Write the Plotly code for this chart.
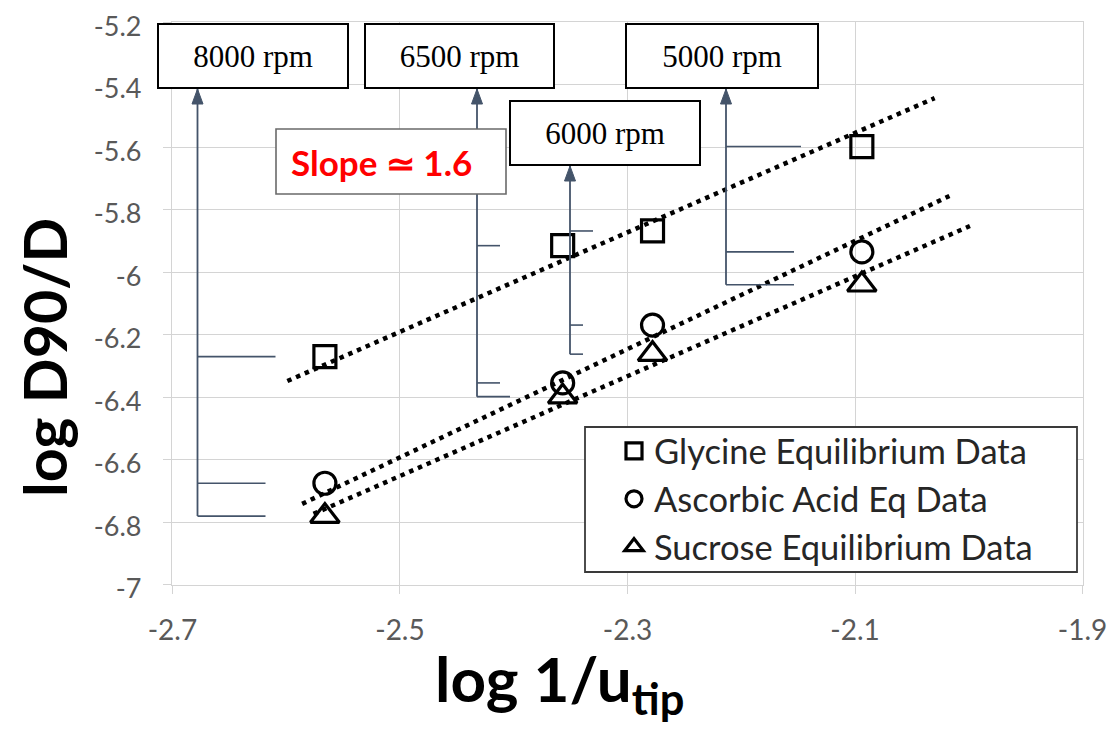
import plotly.graph_objects as go

# ---------------- data ----------------
log_inv_utip = [-2.566, -2.357, -2.278, -2.094]
glycine = [-6.270, -5.915, -5.868, -5.598]
ascorbic = [-6.675, -6.354, -6.169, -5.935]
sucrose = [-6.780, -6.398, -6.262, -6.040]

series_names = ["Glycine Equilibrium Data", "Ascorbic Acid Eq Data", "Sucrose Equilibrium Data"]
series_symbols = ["square-open", "circle-open", "triangle-up-open"]

# dotted trend lines (end points)
trend_x0 = [-2.599, -2.586, -2.576]
trend_y0 = [-6.348, -6.741, -6.773]
trend_x1 = [-2.030, -2.017, -1.999]
trend_y1 = [-5.443, -5.756, -5.852]

rpm_labels = ["8000 rpm", "6500 rpm", "6000 rpm", "5000 rpm"]
slope_text = "Slope \u2243 1.6"
x_title = "<b>log 1/u<sub>tip</sub></b>"
y_title = "<b>log D90/D</b>"

x_ticks = [-2.7, -2.5, -2.3, -2.1, -1.9]
x_tick_text = ["-2.7", "-2.5", "-2.3", "-2.1", "-1.9"]
y_ticks = [-7, -6.8, -6.6, -6.4, -6.2, -6, -5.8, -5.6, -5.4, -5.2]
y_tick_text = ["-7", "-6.8", "-6.6", "-6.4", "-6.2", "-6", "-5.8", "-5.6", "-5.4", "-5.2"]

# ---------------- layout helpers (positions, not data) ----------------
OFF = 8                      # page body margin of the browser
W, H = 1115 - OFF, 736 - OFF
ML, MT = 172 - OFF, 22 - OFF
PW, PH = 911, 563
MR, MB = W - ML - PW, H - MT - PH
EPS = 0.0004
X0, X1 = -2.7 - EPS, -1.9 + EPS
Y0, Y1 = -7.0 - EPS, -5.2 + EPS


# all helpers take viewport pixel coordinates
def dx(px):
    return X0 + (px - OFF - ML) / PW * (X1 - X0)


def dy(py):
    return Y1 - (py - OFF - MT) / PH * (Y1 - Y0)


def px_(x):
    return (x - OFF - ML) / PW


def py_(y):
    return 1 - (y - OFF - MT) / PH


fig = go.Figure()

all_series = [glycine, ascorbic, sucrose]
for i in range(3):
    fig.add_trace(go.Scatter(
        x=[trend_x0[i], trend_x1[i]], y=[trend_y0[i], trend_y1[i]],
        mode="lines", line=dict(color="black", width=4.5, dash="4.5px,5px"),
        showlegend=False, hoverinfo="skip"))

for i in range(3):
    size = 22 if i < 2 else 25
    fig.add_trace(go.Scatter(
        x=log_inv_utip, y=all_series[i], mode="markers", name=series_names[i],
        marker=dict(symbol=series_symbols[i], size=size, color="black",
                    line=dict(color="black", width=3.2))))

shapes = []
annotations = []

# rpm callouts: box center (px), box size, arrow x (px), tick lengths (px)
box_cx = [253, 459, 605, 722]
box_cy = [56, 56, 133, 56]
box_w = [188, 187, 188, 190]
box_h = [62, 62, 62, 62]
arrow_px = [197.5, 477, 570, 726]
tick_len = [[78, 68, 68], [23, 23, 33], [23, 13, 13], [75, 68, 68]]
ARROW = "#44546A"

for k in range(4):
    ax_d = dx(arrow_px[k])
    top_d = dy(box_cy[k] + box_h[k] / 2 + 2)
    ys = [glycine[k], ascorbic[k], sucrose[k]]
    shapes.append(dict(type="line", xref="x", yref="y", x0=ax_d, x1=ax_d,
                       y0=min(ys), y1=top_d, line=dict(color=ARROW, width=1.8), layer="above"))
    shapes.append(dict(type="path", xref="x", yref="y", xsizemode="pixel", ysizemode="pixel",
                       xanchor=ax_d, yanchor=top_d, path="M -5.5 -15 L 5.5 -15 L 0 0 Z",
                       fillcolor=ARROW, line=dict(color=ARROW, width=1), layer="above"))
    for j, yv in enumerate(ys):
        shapes.append(dict(type="line", xref="x", yref="y", xsizemode="pixel", xanchor=ax_d,
                           x0=0, x1=tick_len[k][j], y0=yv, y1=yv,
                           line=dict(color=ARROW, width=1.6), layer="above"))
    annotations.append(dict(
        x=dx(box_cx[k]), y=dy(box_cy[k]), xref="x", yref="y", text=rpm_labels[k],
        showarrow=False, font=dict(family="Liberation Serif", size=31, color="black"),
        bgcolor="white", bordercolor="black", borderwidth=2, borderpad=0,
        width=box_w[k], height=box_h[k], xanchor="center", yanchor="middle"))

# slope box (frame + text)
shapes.append(dict(type="rect", xref="x", yref="y", x0=dx(276), x1=dx(506),
                   y0=dy(194), y1=dy(129), line=dict(color="#6a6a6a", width=1.6),
                   fillcolor="white", layer="above"))
annotations.append(dict(
    x=dx(381), y=dy(162), xref="x", yref="y", text="<b>" + slope_text + "</b>",
    showarrow=False, font=dict(family="Lato", size=35, color="#FF0000"),
    xanchor="center", yanchor="middle"))

# axis titles
annotations.append(dict(x=px_(559), y=py_(682), xref="paper", yref="paper", text=x_title,
                        showarrow=False, font=dict(family="Lato", size=62, color="black"),
                        xanchor="center", yanchor="middle"))
annotations.append(dict(x=px_(44), y=py_(358), xref="paper", yref="paper", text=y_title,
                        showarrow=False, textangle=-90,
                        font=dict(family="Lato", size=59, color="black"),
                        xanchor="center", yanchor="middle"))

# legend frame
shapes.append(dict(type="rect", xref="paper", yref="paper",
                   x0=px_(585), x1=px_(1077), y0=py_(572), y1=py_(427),
                   line=dict(color="#3a3a3a", width=1.8), fillcolor="white", layer="above"))

fig.update_layout(
    width=W, height=H,
    margin=dict(l=ML, r=MR, t=MT, b=MB, autoexpand=False),
    paper_bgcolor="white", plot_bgcolor="white",
    font=dict(family="Lato", color="#595959"),
    shapes=shapes, annotations=annotations,
    showlegend=True,
    legend=dict(x=px_(614), y=py_(422), xanchor="left", yanchor="top",
                bgcolor="rgba(0,0,0,0)", borderwidth=0,
                font=dict(family="Lato", size=34.5, color="#262626"),
                itemsizing="trace"),
)

fig.update_xaxes(range=[X0, X1], tickvals=x_ticks, ticktext=x_tick_text, automargin=False,
                 showgrid=True, gridcolor="#d4d4d4", gridwidth=1.3,
                 showline=True, linecolor="#d4d4d4", linewidth=1.3, mirror=True,
                 ticks="outside", ticklen=8, tickcolor="#d4d4d4", tickwidth=1.3,
                 ticklabelstandoff=12, zeroline=False, ticklabeloverflow="allow",
                 tickfont=dict(family="Lato", size=28, color="#595959"))
fig.update_yaxes(range=[Y0, Y1], tickvals=y_ticks, ticktext=y_tick_text, automargin=False,
                 showgrid=True, gridcolor="#d4d4d4", gridwidth=1.3,
                 showline=True, linecolor="#d4d4d4", linewidth=1.3, mirror=True,
                 ticks="outside", ticklen=8, tickcolor="#d4d4d4", tickwidth=1.3,
                 ticklabelstandoff=16, ticklabelshift=4, zeroline=False,
                 ticklabeloverflow="allow",
                 tickfont=dict(family="Lato", size=27, color="#595959"))

fig.write_html("out.html")
